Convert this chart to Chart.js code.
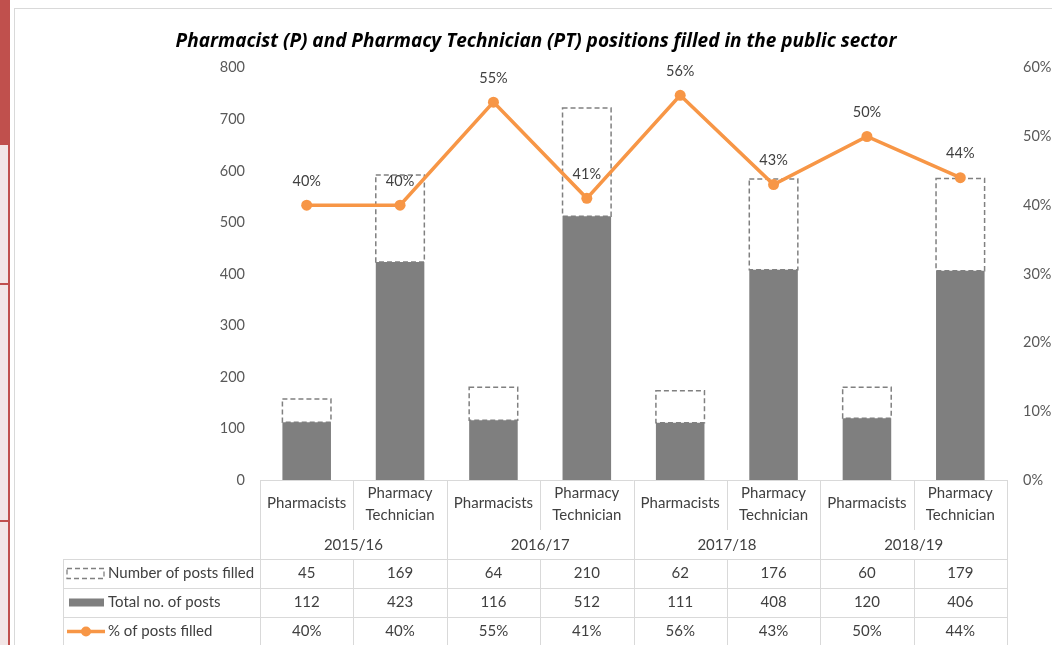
<!DOCTYPE html>
<html>
<head>
<meta charset="utf-8">
<script src="https://cdn.jsdelivr.net/npm/chart.js@4"></script>
<style>
  body { margin: 0; background: #fff; }
  #wrap { position: relative; width: 1052px; height: 645px; overflow: hidden; }
  .stripe { position: absolute; left: 0; width: 10px; }
  #frame { position: absolute; left: 14px; top: 8px; right: -2px; bottom: -2px; border-left: 1px solid #d9d9d9; border-top: 1px solid #d9d9d9; }
  canvas { position: absolute; left: 0; top: 0; }
</style>
</head>
<body>
<div id="wrap">
  <div class="stripe" style="top:0;height:145px;background:#c0504d;"></div>
  <div class="stripe" style="top:145px;height:500px;background:#f3e6e6;border-right:2px solid #c0504d;width:8px;"></div>
  <div class="stripe" style="top:283px;height:2px;background:#c0504d;"></div>
  <div class="stripe" style="top:520px;height:2px;background:#c0504d;"></div>
  <div id="frame"></div>
  <canvas id="chart" width="1052" height="645"></canvas>
</div>
<script>
// data
const years = ["2015/16", "2016/17", "2017/18", "2018/19"];
const roles = [["Pharmacists"], ["Pharmacy", "Technician"]];
const categories = ["Pharmacists", "Pharmacy Technician", "Pharmacists", "Pharmacy Technician",
  "Pharmacists", "Pharmacy Technician", "Pharmacists", "Pharmacy Technician"];
const postsFilled = [45, 169, 64, 210, 62, 176, 60, 179];
const totalPosts = [112, 423, 116, 512, 111, 408, 120, 406];
const pctFilled = [40, 40, 55, 41, 56, 43, 50, 44];
const seriesNames = ["Number of posts filled", "Total no. of posts", "% of posts filled"];

const FONT = "Lato, 'Open Sans', sans-serif";
const GREY = "#7f7f7f";
const ORANGE = "#f79646";
const TEXT = "#404040";

// dashed outline for the "filled" bars (bars can't dash their borders)
const dashedBars = {
  id: "dashedBars",
  afterDatasetDraw(chart, args) {
    if (args.index !== 1) return;
    const ctx = chart.ctx;
    ctx.save();
    ctx.setLineDash([5, 3]);
    ctx.strokeStyle = "#808080";
    ctx.lineWidth = 1.5;
    args.meta.data.forEach(bar => {
      const { x, y, base, width } = bar.getProps(["x", "y", "base", "width"], true);
      ctx.strokeRect(x - width / 2, y, width, base - y);
    });
    ctx.restore();
  }
};

// % labels above the line points
const pointLabels = {
  id: "pointLabels",
  afterDatasetsDraw(chart) {
    const ctx = chart.ctx;
    const meta = chart.getDatasetMeta(2);
    ctx.save();
    ctx.font = "14.5px " + FONT;
    ctx.fillStyle = TEXT;
    ctx.textAlign = "center";
    ctx.textBaseline = "middle";
    meta.data.forEach((pt, i) => {
      ctx.fillText(pctFilled[i] + "%", pt.x, pt.y - 24);
    });
    ctx.restore();
  }
};

// data table under the plot
const dataTable = {
  id: "dataTable",
  afterDraw(chart) {
    const ctx = chart.ctx;
    const xs = chart.scales.x;
    const colW = xs.getPixelForValue(1) - xs.getPixelForValue(0);
    const edges = [];
    for (let i = 0; i <= categories.length; i++) edges.push(xs.getPixelForValue(0) - colW / 2 + i * colW);
    const top = chart.chartArea.bottom;
    const roleBottom = top + 50;
    const yearBottom = top + 79;
    const rowH = 29;
    const legendLeft = 63;
    const right = edges[edges.length - 1];

    ctx.save();
    ctx.strokeStyle = "#d9d9d9";
    ctx.lineWidth = 1;
    ctx.beginPath();
    ctx.moveTo(edges[0], top + 0.5); ctx.lineTo(right, top + 0.5);
    for (let r = 0; r < 3; r++) {
      const y = Math.round(yearBottom + r * rowH) + 0.5;
      ctx.moveTo(legendLeft, y); ctx.lineTo(right, y);
    }
    edges.forEach((ex, j) => {
      const x = Math.round(ex) + 0.5;
      if (j % 2 === 0) {
        ctx.moveTo(x, top); ctx.lineTo(x, 645);
      } else {
        ctx.moveTo(x, top); ctx.lineTo(x, roleBottom);
        ctx.moveTo(x, yearBottom); ctx.lineTo(x, 645);
      }
    });
    ctx.moveTo(legendLeft + 0.5, yearBottom); ctx.lineTo(legendLeft + 0.5, 645);
    ctx.stroke();

    ctx.font = "15px " + FONT;
    ctx.fillStyle = TEXT;
    ctx.textAlign = "center";
    ctx.textBaseline = "middle";
    categories.forEach((c, i) => {
      const cx = xs.getPixelForValue(i);
      const lines = roles[i % 2];
      if (lines.length === 1) ctx.fillText(lines[0], cx, top + 23);
      else { ctx.fillText(lines[0], cx, top + 13); ctx.fillText(lines[1], cx, top + 35); }
      ctx.fillText(String(postsFilled[i]), cx, yearBottom + 14.5);
      ctx.fillText(String(totalPosts[i]), cx, yearBottom + rowH + 14.5);
      ctx.fillText(pctFilled[i] + "%", cx, yearBottom + 2 * rowH + 14.5);
    });
    years.forEach((yr, k) => {
      ctx.fillText(yr, (edges[2 * k] + edges[2 * k + 2]) / 2, top + 65);
    });

    // legend keys
    ctx.textAlign = "left";
    const ty = [yearBottom + 14.5, yearBottom + rowH + 14.5, yearBottom + 2 * rowH + 14.5];
    seriesNames.forEach((n, r) => ctx.fillText(n, 108, ty[r]));
    ctx.setLineDash([5, 3]);
    ctx.strokeStyle = "#808080";
    ctx.lineWidth = 1.3;
    ctx.strokeRect(67, ty[0] - 5, 37, 10);
    ctx.setLineDash([]);
    ctx.fillStyle = GREY;
    ctx.fillRect(69, ty[1] - 4, 35, 8);
    ctx.strokeStyle = ORANGE;
    ctx.lineWidth = 3.5;
    ctx.beginPath(); ctx.moveTo(67, ty[2]); ctx.lineTo(105, ty[2]); ctx.stroke();
    ctx.fillStyle = ORANGE;
    ctx.beginPath(); ctx.arc(86, ty[2], 5, 0, Math.PI * 2); ctx.fill();
    ctx.restore();
  }
};

new Chart(document.getElementById("chart"), {
  data: {
    labels: categories,
    datasets: [
      {
        type: "bar",
        label: seriesNames[1],
        data: totalPosts,
        backgroundColor: GREY,
        stack: "posts",
        yAxisID: "y",
        order: 1,
      },
      {
        type: "bar",
        label: seriesNames[0],
        data: postsFilled,
        backgroundColor: "rgba(255,255,255,0)",
        borderWidth: 0,
        stack: "posts",
        yAxisID: "y",
        order: 1,
      },
      {
        type: "line",
        label: seriesNames[2],
        data: pctFilled,
        borderColor: ORANGE,
        backgroundColor: ORANGE,
        borderWidth: 3.5,
        pointRadius: 5.5,
        pointBackgroundColor: ORANGE,
        pointBorderWidth: 0,
        yAxisID: "y1",
        order: 0,
      },
    ],
  },
  options: {
    responsive: false,
    animation: false,
    layout: { padding: { left: 20, top: 0, right: 0, bottom: 0 } },
    datasets: { bar: { categoryPercentage: 1, barPercentage: 0.52 } },
    scales: {
      x: {
        stacked: true,
        grid: { display: false, drawTicks: false },
        border: { display: false },
        ticks: { display: false },
        afterFit(scale) { scale.height = 165; },
      },
      y: {
        position: "left",
        stacked: true,
        min: 0,
        max: 800,
        grid: { display: false, drawTicks: false },
        border: { display: false },
        ticks: { stepSize: 100, padding: 15, color: "#595959", font: { family: FONT, size: 14.5 } },
        afterFit(scale) { scale.width = 240; },
      },
      y1: {
        position: "right",
        min: 0,
        max: 60,
        grid: { display: false, drawTicks: false },
        border: { display: false },
        ticks: {
          stepSize: 10,
          padding: 16,
          color: "#595959",
          font: { family: FONT, size: 14.5 },
          callback: v => v + "%",
        },
        afterFit(scale) { scale.width = 45; },
      },
    },
    plugins: {
      legend: { display: false },
      tooltip: { enabled: false },
      title: {
        display: true,
        text: "Pharmacist (P) and Pharmacy Technician (PT) positions filled in the public sector",
        color: "#000",
        font: { family: "'Open Sans', Lato, sans-serif", size: 19, weight: "bold", style: "italic" },
        padding: { top: 30, bottom: 15 },
      },
    },
  },
  plugins: [dashedBars, pointLabels, dataTable],
});
</script>
</body>
</html>
